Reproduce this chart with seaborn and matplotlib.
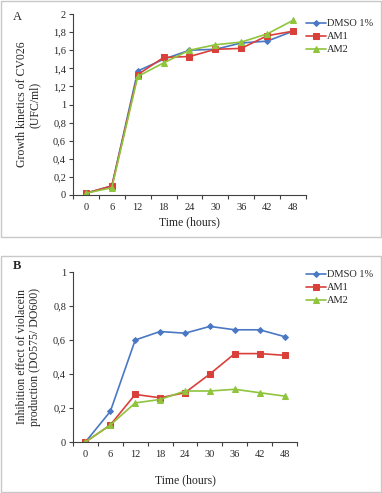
import matplotlib
matplotlib.use("Agg")
import matplotlib.pyplot as plt
import numpy as np
import pandas as pd
import seaborn as sns
from matplotlib.patches import Rectangle

# data
hours = [0, 6, 12, 18, 24, 30, 36, 42, 48]
series = ["DMSO 1%", "AM1", "AM2"]

growth_dmso = [0.02, 0.10, 1.37, 1.50, 1.60, 1.61, 1.68, 1.70, 1.81]
growth_am1 = [0.02, 0.10, 1.33, 1.52, 1.53, 1.61, 1.62, 1.76, 1.81]
growth_am2 = [0.02, 0.08, 1.31, 1.46, 1.60, 1.66, 1.69, 1.78, 1.93]

inhib_dmso = [0.00, 0.18, 0.60, 0.65, 0.64, 0.68, 0.66, 0.66, 0.62]
inhib_am1 = [0.00, 0.10, 0.28, 0.26, 0.29, 0.40, 0.52, 0.52, 0.51]
inhib_am2 = [0.00, 0.10, 0.23, 0.25, 0.30, 0.30, 0.31, 0.29, 0.27]

ticks_a = [0, 0.2, 0.4, 0.6, 0.8, 1, 1.2, 1.4, 1.6, 1.8, 2]
ticks_a_labels = ["0", "0,2", "0,4", "0,6", "0,8", "1", "1,2", "1,4", "1,6", "1,8", "2"]
ticks_b = [0, 0.2, 0.4, 0.6, 0.8, 1]
ticks_b_labels = ["0", "0,2", "0,4", "0,6", "0,8", "1"]


def to_long(a, b, c):
    return pd.DataFrame({
        "Time": hours * 3,
        "value": a + b + c,
        "group": [s for s in series for _ in hours],
    })


sns.set_style("white")
plt.rcParams["font.family"] = ["Liberation Serif", "DejaVu Serif"]

palette = {"DMSO 1%": "#4a78c4", "AM1": "#d9403a", "AM2": "#8fc43c"}
markers = {"DMSO 1%": "D", "AM1": "s", "AM2": "^"}
msize = {"DMSO 1%": 3, "AM1": 4.5, "AM2": 4.2}

W, H = 382, 493
fig = plt.figure(figsize=(W / 100, H / 100), dpi=100)

# light grey frames around each panel
for (x0, y0, x1, y1) in [(1, 1, 381, 237), (1, 256, 381, 492)]:
    fig.patches.append(Rectangle((x0 / W, 1 - y1 / H), (x1 - x0) / W, (y1 - y0) / H,
                                 transform=fig.transFigure, fill=False,
                                 edgecolor="#c8c8c8", lw=1))


def panel(rect, df, yticks, ylabels, ylim, ylabel, leg_y, xpad):
    l, t, r, b = rect
    ax = fig.add_axes([l / W, 1 - b / H, (r - l) / W, (b - t) / H])
    for s in series:
        d = df[df["group"] == s]
        sns.lineplot(data=d, x="Time", y="value", ax=ax, color=palette[s],
                     marker=markers[s], markersize=msize[s], lw=1.2,
                     markeredgecolor=palette[s], label=s)
    ax.set_xlim(-3, 51)
    ax.set_ylim(*ylim)
    ax.set_xticks(hours)
    ax.set_xticklabels([str(h) for h in hours])
    ax.set_xticks(np.arange(-3, 52, 6), minor=True)
    ax.tick_params(axis="x", which="major", length=0, pad=6, labelsize=7.5)
    ax.tick_params(axis="x", which="minor", length=3, width=0.8, direction="out",
                   color="#404040", bottom=True)
    ax.set_yticks(yticks)
    ax.set_yticklabels(ylabels)
    ax.tick_params(axis="y", length=3, width=0.8, direction="out", color="#404040",
                   labelsize=7.5, pad=2, left=True)
    for sp in ["top", "right"]:
        ax.spines[sp].set_visible(False)
    for sp in ["left", "bottom"]:
        ax.spines[sp].set_color("#404040")
        ax.spines[sp].set_linewidth(0.8)
    ax.set_xlabel("Time (hours)", fontsize=8.5, labelpad=xpad)
    ax.set_ylabel(ylabel, fontsize=8.5, linespacing=1.15)
    ax.yaxis.set_label_coords((41 - l) / (r - l), 0.5)
    ax.legend(loc="upper left", bbox_to_anchor=(306 / W, 1 - leg_y / H),
              bbox_transform=fig.transFigure, frameon=False, fontsize=7.5,
              handlelength=1.9, handletextpad=0.15, labelspacing=0.35,
              borderpad=0, borderaxespad=0)
    return ax


ax1 = panel((73, 14, 306, 195), to_long(growth_dmso, growth_am1, growth_am2),
            ticks_a, ticks_a_labels, (0, 2),
            "Growth kinetics of CV026\n(UFC/ml)", 19, 3)
ax2 = panel((73, 272, 297, 442), to_long(inhib_dmso, inhib_am1, inhib_am2),
            ticks_b, ticks_b_labels, (0, 1),
            "Inhibition effect of violacein\nproduction (DO575/ DO600)", 270, 11)

fig.text(17 / W, 1 - 17 / H, "A", fontsize=9, ha="center", va="center")
fig.text(17 / W, 1 - 266 / H, "B", fontsize=9, ha="center", va="center",
         fontweight="bold")

fig.savefig("out.png", dpi=100)
